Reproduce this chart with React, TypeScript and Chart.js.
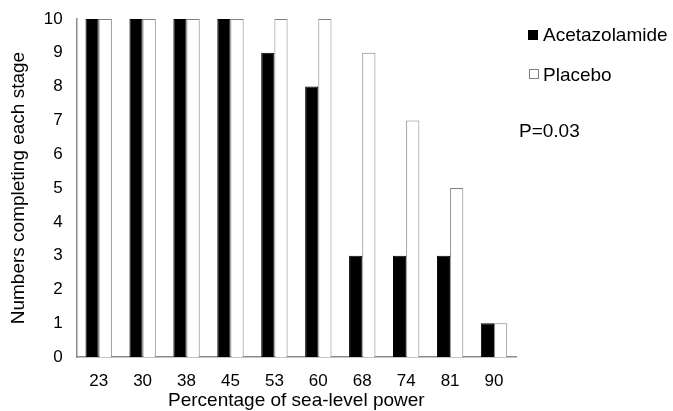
import React, { useEffect, useRef } from "react";
import { Chart, registerables } from "chart.js";

Chart.register(...registerables);

const categories = ["23", "30", "38", "45", "53", "60", "68", "74", "81", "90"];
const acetazolamide = [10, 10, 10, 10, 9, 8, 3, 3, 3, 1];
const placebo = [10, 10, 10, 10, 10, 10, 9, 7, 5, 1];
const yTicks = [0, 1, 2, 3, 4, 5, 6, 7, 8, 9, 10];
const seriesNames = ["Acetazolamide", "Placebo"];
const pValueText = "P=0.03";

const FONT = "'Liberation Sans', Arial, sans-serif";

export default function App() {
  const ref = useRef<HTMLCanvasElement | null>(null);

  useEffect(() => {
    document.body.style.margin = "0";
    if (!ref.current) return;
    const chart = new Chart(ref.current, {
      type: "bar",
      data: {
        labels: categories,
        datasets: [
          {
            label: seriesNames[0],
            data: acetazolamide,
            backgroundColor: "#000000",
            borderColor: "#000000",
            borderWidth: 1,
            categoryPercentage: 0.6,
            barPercentage: 1,
          },
          {
            label: seriesNames[1],
            data: placebo,
            backgroundColor: "#ffffff",
            borderColor: "#808080",
            borderWidth: 1,
            categoryPercentage: 0.6,
            barPercentage: 1,
          },
        ],
      },
      options: {
        animation: false,
        responsive: false,
        maintainAspectRatio: false,
        layout: { padding: { top: 19, right: 157, left: 7, bottom: 0 } },
        plugins: { legend: { display: false }, tooltip: { enabled: false } },
        scales: {
          x: {
            grid: { display: false, drawTicks: false },
            border: { display: true, color: "#8c8c8c", width: 1.5 },
            ticks: { color: "#000", font: { family: FONT, size: 17, lineHeight: 1 }, padding: 15.5 },
            title: {
              display: true,
              text: "Percentage of sea-level power",
              color: "#000",
              font: { family: FONT, size: 19, lineHeight: 1.1 },
              padding: { top: -15, bottom: 0 },
            },
          },
          y: {
            min: 0,
            max: 10,
            afterBuildTicks: (axis: any) => {
              axis.ticks = yTicks.map((v) => ({ value: v }));
            },
            grid: { display: false, drawTicks: false },
            border: { display: true, color: "#8c8c8c", width: 1.5 },
            ticks: { color: "#000", font: { family: FONT, size: 17, lineHeight: 0.5 }, padding: 14 },
            title: {
              display: true,
              text: "Numbers completing each stage",
              color: "#000",
              font: { family: FONT, size: 19, lineHeight: 1.2 },
              padding: { top: 0, bottom: 0 },
            },
          },
        },
      },
    });
    return () => chart.destroy();
  }, []);

  const legendText: React.CSSProperties = {
    position: "absolute",
    fontFamily: FONT,
    fontSize: 19,
    color: "#000",
    whiteSpace: "nowrap",
    lineHeight: "19px",
  };

  return (
    <div style={{ position: "relative", width: 673, height: 411, background: "#fff", overflow: "hidden" }}>
      <canvas ref={ref} width={673} height={411} style={{ width: 673, height: 411, display: "block" }} />
      <div style={{ position: "absolute", left: 528, top: 30, width: 10, height: 10, background: "#000" }} />
      <div style={{ ...legendText, left: 543, top: 24.5 }}>{seriesNames[0]}</div>
      <div style={{ position: "absolute", left: 529, top: 69, width: 10, height: 10, background: "#fff", border: "1px solid #808080", boxSizing: "border-box" }} />
      <div style={{ ...legendText, left: 543, top: 64.5 }}>{seriesNames[1]}</div>
      <div style={{ ...legendText, left: 519, top: 120.5 }}>{pValueText}</div>
    </div>
  );
}
